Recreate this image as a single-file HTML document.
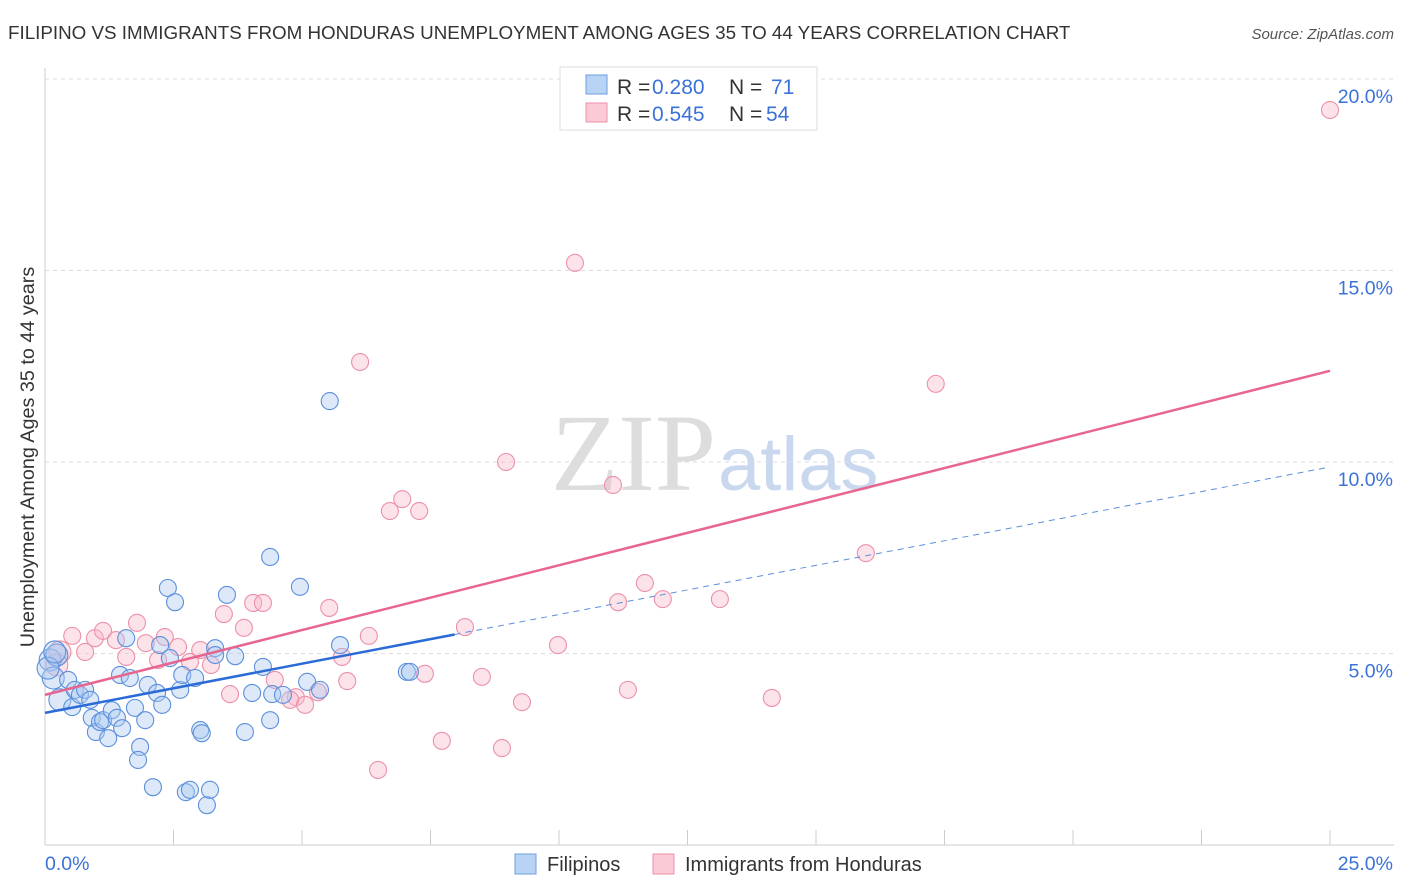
<!DOCTYPE html>
<html><head><meta charset="utf-8"><style>
body{margin:0;background:#fff;font-family:"Liberation Sans",sans-serif;}
svg{display:block}
</style></head><body>
<svg id="chart" width="1406" height="892" xmlns="http://www.w3.org/2000/svg">
<text x="8" y="39" font-size="18.8" fill="#333">FILIPINO VS IMMIGRANTS FROM HONDURAS UNEMPLOYMENT AMONG AGES 35 TO 44 YEARS CORRELATION CHART</text>
<text x="1394" y="39" font-size="15" fill="#555" font-style="italic" text-anchor="end">Source: ZipAtlas.com</text>
<text x="716" y="490" font-size="110" fill="#ddd" font-family="Liberation Serif,serif" text-anchor="end">ZIP</text>
<text x="718" y="490" font-size="76" fill="#c9d8ef">atlas</text>
<g id="grid"></g>
<g id="axes"></g>
<g id="marks"></g>
<text transform="translate(34,457) rotate(-90)" font-size="19.8" fill="#333" text-anchor="middle">Unemployment Among Ages 35 to 44 years</text>
<g>
<rect x="560" y="67" width="257" height="63" fill="#fff" stroke="#ddd"/>
<rect x="586" y="75" width="21" height="19" fill="#b9d3f5" stroke="#6d9de0"/>
<rect x="586" y="103" width="21" height="19" fill="#fbcad7" stroke="#ec90aa"/>
<text x="617" y="94" font-size="21" fill="#333">R = </text>
<text x="652" y="94" font-size="21" fill="#3b72d8">0.280</text>
<text x="729" y="94" font-size="21" fill="#333">N =</text>
<text x="771" y="94" font-size="21" fill="#3b72d8">71</text>
<text x="617" y="121" font-size="21" fill="#333">R = </text>
<text x="652" y="121" font-size="21" fill="#3b72d8">0.545</text>
<text x="729" y="121" font-size="21" fill="#333">N =</text>
<text x="766" y="121" font-size="21" fill="#3b72d8">54</text>
</g>
<g>
<rect x="515" y="854" width="21" height="20" fill="#b9d3f5" stroke="#6d9de0"/>
<text x="547" y="871" font-size="20" fill="#333">Filipinos</text>
<rect x="653" y="854" width="21" height="20" fill="#fbcad7" stroke="#ec90aa"/>
<text x="685" y="871" font-size="20" fill="#333">Immigrants from Honduras</text>
</g>
</svg>
<script>
const xTicks=[0,2.5,5,7.5,10,12.5,15,17.5,20,22.5,25];
const yTicks=[5,10,15,20];
const yTickLabels=["5.0%","10.0%","15.0%","20.0%"];
const xLabels=["0.0%","25.0%"];
const filX=[0.10,0.16,0.23,0.29,0.45,0.53,0.58,0.68,0.78,0.88,0.91,0.99,1.07,1.13,1.23,1.30,1.40,1.46,1.50,1.58,1.65,1.75,1.85,1.81,1.95,2.00,2.10,2.18,2.24,2.28,2.39,2.43,2.53,2.63,2.67,2.74,2.82,2.92,3.02,3.05,3.15,3.21,3.31,3.31,3.54,3.70,3.89,4.03,4.24,4.38,4.38,4.42,4.63,4.96,5.10,5.35,5.74,5.54,7.04,7.10,0.06,0.19];
const filY=[4.83,4.36,4.96,3.79,4.31,3.60,4.05,3.92,4.05,3.79,3.32,2.95,3.21,3.26,2.79,3.52,3.32,4.44,3.05,5.40,4.36,3.58,2.56,2.22,3.26,4.18,1.51,3.97,5.22,3.66,6.71,4.88,6.34,4.05,4.44,1.38,1.44,4.36,3.00,2.92,1.04,1.44,5.14,4.96,6.53,4.93,2.95,3.97,4.65,7.52,3.26,3.94,3.92,6.74,4.26,4.05,5.22,11.59,4.52,4.52,4.62,5.04];
const honX=[25.0,10.31,6.13,17.33,8.97,11.05,6.95,6.71,7.28,15.97,11.67,12.02,11.15,13.13,3.48,4.05,4.24,5.53,1.79,3.87,8.17,0.53,0.97,1.13,1.38,1.96,2.33,2.59,3.02,6.30,9.98,0.78,0.29,1.58,2.20,2.82,3.23,5.78,4.47,5.88,7.39,8.50,4.88,4.77,3.60,5.31,5.06,11.34,9.28,14.14,7.72,8.89,6.48,0.23];
const honY=[19.19,15.20,12.61,12.04,10.0,9.40,9.03,8.72,8.72,7.62,6.84,6.42,6.34,6.42,6.03,6.32,6.32,6.19,5.80,5.67,5.69,5.46,5.40,5.59,5.35,5.27,5.43,5.17,5.09,5.46,5.22,5.04,5.04,4.91,4.83,4.78,4.70,4.91,4.31,4.28,4.47,4.39,3.86,3.79,3.94,3.99,3.66,4.05,3.73,3.84,2.72,2.53,1.96,4.70];
const filFit=[3.45,9.87];
const honFit=[3.92,12.38];
const NS="http://www.w3.org/2000/svg";
const X=v=>45+v*51.4, Y=v=>845-v*38.3;
function mk(parent,tag,attrs){const e=document.createElementNS(NS,tag);for(const k in attrs)e.setAttribute(k,attrs[k]);document.getElementById(parent).appendChild(e);return e;}
yTicks.forEach((t,i)=>{
 const l=mk('grid','line',{x1:45,x2:1394,y1:Y(t),y2:Y(t),stroke:'#ddd','stroke-dasharray':'4,4'});
 
 
 const tx=mk('grid','text',{x:1393,y:Y(t)+24,'font-size':19.5,fill:'#3b72d8','text-anchor':'end'});
 tx.textContent=yTickLabels[i];
 
 
});
const ax=mk('axes','line',{x1:45,x2:1394,y1:845,y2:845,stroke:'#ccc'});


const ay=mk('axes','line',{x1:45,x2:45,y1:68,y2:845,stroke:'#ccc'});


xTicks.forEach(t=>{
 const l=mk('axes','line',{x1:X(t),x2:X(t),y1:830,y2:845,stroke:'#ccc'});
 
 
});
const xl0=mk('axes','text',{x:45,y:870,'font-size':19.5,fill:'#3b72d8'});xl0.textContent=xLabels[0];


const xl1=mk('axes','text',{x:1393,y:870,'font-size':19.5,fill:'#3b72d8','text-anchor':'end'});xl1.textContent=xLabels[1];


function dots(xs,ys,fill,stroke,name){xs.forEach((x,i)=>{
 const c=mk('marks','circle',{cx:X(x),cy:Y(ys[i]),r:(x<0.3?11:8.5),fill:fill,'fill-opacity':0.4,stroke:stroke,'stroke-width':1.1});
 
 
});}
dots(honX,honY,'#f7b6c8','#ec90aa','honduras-point');
dots(filX,filY,'#a9c8f0','#5b8fdc','filipino-point');
const xe=7.97;
const fs=(filFit[1]-filFit[0])/25;
const b1=mk('marks','line',{x1:X(0),y1:Y(filFit[0]),x2:X(xe),y2:Y(filFit[0]+fs*xe),stroke:'#2a6bd6','stroke-width':2.5});


const b2=mk('marks','line',{x1:X(xe),y1:Y(filFit[0]+fs*xe),x2:X(25),y2:Y(filFit[1]),stroke:'#5b8fdc','stroke-width':1,'stroke-dasharray':'6,5'});


const p1=mk('marks','line',{x1:X(0),y1:Y(honFit[0]),x2:X(25),y2:Y(honFit[1]),stroke:'#e8658f','stroke-width':2.5});


</script>
</body></html>
